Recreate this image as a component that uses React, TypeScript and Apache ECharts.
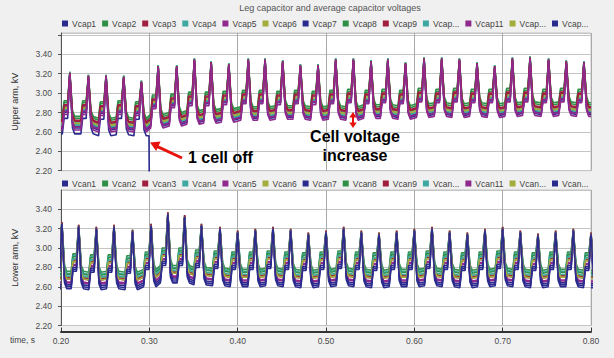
import React, { useEffect, useRef } from "react";
import * as echarts from "echarts";

// ---- Data ----
const upperNames = ["Vcap1","Vcap2","Vcap3","Vcap4","Vcap5","Vcap6","Vcap7","Vcap8","Vcap9","Vcap10","Vcap11","Vcap12","Vcap13"];
const lowerNames = ["Vcan1","Vcan2","Vcan3","Vcan4","Vcan5","Vcan6","Vcan7","Vcan8","Vcan9","Vcan10","Vcan11","Vcan12","Vcan13"];
const truncatedNames = ["Vcap10","Vcap12","Vcap13","Vcan10","Vcan12","Vcan13"];

const xTicks = [0.2, 0.3, 0.4, 0.5, 0.6, 0.7, 0.8];
const yTicks = [2.2, 2.4, 2.6, 2.8, 3.0, 3.2, 3.4];

// Upper arm: per-cycle peak times (s), peak, shoulder and trough levels (kV)
const upperPeakTimes = [0.210,0.231,0.251,0.271,0.291,0.310,0.331,0.351,0.370,0.390,0.412,0.431,0.451,0.471,0.491,0.511,0.531,0.551,0.570,0.590,0.611,0.631,0.651,0.671,0.691,0.711,0.731,0.752,0.772,0.792];
const upperPeaks = [3.22,3.19,3.19,3.18,3.13,3.29,3.29,3.36,3.33,3.31,3.36,3.36,3.34,3.30,3.30,3.36,3.36,3.34,3.36,3.32,3.37,3.37,3.36,3.32,3.29,3.37,3.38,3.36,3.34,3.33];
const upperShoulders = [2.86,2.86,2.85,2.86,2.85,2.92,2.93,2.95,2.95,2.96,2.97,2.97,2.96,2.97,2.96,2.97,2.98,2.97,2.98,2.97,2.99,2.98,2.99,2.98,2.98,2.99,2.99,2.98,2.99,2.98];
const upperTroughs = [2.70,2.70,2.68,2.69,2.68,2.72,2.74,2.76,2.77,2.78,2.80,2.80,2.81,2.81,2.80,2.81,2.80,2.82,2.82,2.81,2.83,2.84,2.83,2.84,2.83,2.84,2.85,2.84,2.85,2.84];
// per-series level offsets (trough, peak)
const upperTroughOffsets = [-0.12,0.06,0.02,0.00,-0.08,-0.02,-0.06,0.04,0.01,-0.03,-0.05,-0.01,-0.04];
const upperPeakOffsets = [-0.04,0.00,-0.01,0.00,-0.03,-0.06,-0.05,-0.02,-0.02,-0.01,-0.02,-0.07,-0.03];
const cellOffTime = 0.300; // Vcap1 drops out here

// Lower arm
const lowerPeakTimes = [0.201,0.220,0.240,0.260,0.281,0.302,0.321,0.340,0.359,0.380,0.400,0.420,0.440,0.460,0.480,0.500,0.520,0.540,0.560,0.580,0.600,0.620,0.640,0.660,0.680,0.700,0.720,0.740,0.760,0.780,0.800];
const lowerPeaks = [3.27,3.24,3.22,3.24,3.19,3.25,3.37,3.34,3.25,3.22,3.18,3.20,3.22,3.20,3.16,3.18,3.22,3.18,3.16,3.18,3.20,3.22,3.18,3.16,3.20,3.22,3.18,3.15,3.18,3.20,3.16];
const lowerShoulders = [2.86,2.86,2.85,2.85,2.84,2.88,2.92,2.92,2.90,2.89,2.88,2.88,2.89,2.88,2.87,2.88,2.89,2.88,2.87,2.88,2.88,2.89,2.88,2.87,2.88,2.89,2.88,2.87,2.88,2.88,2.87];
const lowerTroughs = [2.68,2.68,2.67,2.68,2.67,2.70,2.74,2.74,2.72,2.71,2.70,2.70,2.71,2.70,2.69,2.70,2.71,2.70,2.69,2.70,2.70,2.71,2.70,2.69,2.70,2.71,2.70,2.69,2.70,2.70,2.69];
const lowerTroughOffsets = [-0.10,0.08,0.00,0.06,-0.04,0.02,-0.08,0.05,0.01,0.03,-0.03,0.00,-0.06];
const lowerPeakOffsets = [-0.02,0.00,-0.02,-0.01,-0.03,-0.06,-0.04,-0.03,0.00,-0.02,-0.03,-0.05,-0.02];

// ---- Styles ----
const palette = ["#2b2b8f","#2f8f46","#a01e3e","#3fa8a2","#8e2a8e","#a3ad3c"];
const FONT = "Liberation Sans, Arial, sans-serif";

function buildWave(times: number[], peaks: number[], shoulders: number[], troughs: number[], tOff: number, pOff: number, endTime?: number) {
  const pts: [number, number][] = [];
  pts.push([0.2, troughs[0] + tOff]);
  let last = troughs[0] + tOff;
  for (let k = 0; k < times.length; k++) {
    const tp = times[k];
    if (endTime !== undefined && tp > endTime) break;
    const tr = troughs[k] + tOff;
    const sh = shoulders[k] + tOff;
    pts.push([tp - 0.0085, tr]);
    pts.push([tp - 0.0065, sh]);
    pts.push([tp - 0.0025, sh]);
    pts.push([tp, peaks[k] + pOff]);
    pts.push([tp + 0.003, tr + 0.06]);
    pts.push([tp + 0.0055, tr]);
    last = tr;
  }
  if (endTime !== undefined) {
    pts.push([endTime - 0.0004, last]);
    pts.push([endTime, 2.0]);
  } else {
    pts.push([0.8, last]);
  }
  return pts;
}

export default function App() {
  const ref = useRef<HTMLDivElement>(null);
  useEffect(() => {
    if (!ref.current) return;
    const chart = echarts.init(ref.current, null, { renderer: "svg" });

    const axisLabelStyle = { fontSize: 8.5, color: "#4a4a4a", fontFamily: FONT };
    const splitH = { show: true, lineStyle: { color: "#c4c4c4", width: 1 } };
    const splitV = { show: true, lineStyle: { color: "#a9a9a9", width: 1 } };

    const series: any[] = [];
    upperNames.forEach((n, i) => {
      const isNavy = i % 6 === 0;
      series.push({
        name: n, type: "line", xAxisIndex: 0, yAxisIndex: 0, showSymbol: false, symbol: "none",
        z: isNavy ? 1 : (i % 6 === 2 || i % 6 === 4 ? 3 : 2),
        lineStyle: { width: 1.6, color: palette[i % 6] }, itemStyle: { color: palette[i % 6] },
        data: buildWave(upperPeakTimes, upperPeaks, upperShoulders, upperTroughs, upperTroughOffsets[i], upperPeakOffsets[i], i === 0 ? cellOffTime : undefined),
      });
    });
    lowerNames.forEach((n, i) => {
      series.push({
        name: n, type: "line", xAxisIndex: 1, yAxisIndex: 1, showSymbol: false, symbol: "none",
        lineStyle: { width: 1.6, color: palette[i % 6] }, itemStyle: { color: palette[i % 6] },
        data: buildWave(lowerPeakTimes, lowerPeaks, lowerShoulders, lowerTroughs, lowerTroughOffsets[i], lowerPeakOffsets[i]),
      });
    });

    const legendCommon = {
      left: 62, itemWidth: 6, itemHeight: 6, itemGap: 6, icon: "rect", padding: [2, 0, 2, 0],
      textStyle: { fontSize: 8.5, color: "#444", fontFamily: FONT, padding: [0, 0, 0, -1] },
      formatter: (name: string) => (truncatedNames.includes(name) ? name.slice(0, 4) + "..." : name),
    };

    const yAxisCommon = {
      type: "value", min: 2.2, max: 3.6, interval: 0.2,
      axisLine: { show: true, lineStyle: { color: "#555" } },
      axisTick: { show: true, length: 3, lineStyle: { color: "#555" } },
      axisLabel: { ...axisLabelStyle, margin: 9, showMaxLabel: false, formatter: (v: number) => (yTicks.some((t) => Math.abs(t - v) < 1e-6) ? v.toFixed(2) : "") },
      splitLine: splitH,
      nameLocation: "middle", nameGap: 42, nameRotate: 90,
      nameTextStyle: { fontSize: 9, color: "#333", fontFamily: FONT },
    };

    chart.setOption({
      animation: false,
      backgroundColor: "#f0f0f0",
      grid: [
        { left: 61, right: 23, top: 33, height: 137.7, show: true, backgroundColor: "#ffffff", borderColor: "#c4c4c4", borderWidth: 1 },
        { left: 61, right: 23, top: 190, height: 135.5, show: true, backgroundColor: "#ffffff", borderColor: "#c4c4c4", borderWidth: 1 },
      ],
      legend: [
        { ...legendCommon, top: 17, data: upperNames },
        { ...legendCommon, top: 177, data: lowerNames },
      ],
      xAxis: [
        { type: "value", gridIndex: 0, min: 0.2, max: 0.8, interval: 0.1, axisLine: { show: false }, axisTick: { show: false }, axisLabel: { show: false }, splitLine: splitV },
        {
          type: "value", gridIndex: 1, min: 0.2, max: 0.8, interval: 0.1, offset: 6,
          axisLine: { show: true, lineStyle: { color: "#333", width: 2 } },
          axisTick: { show: true, inside: true, length: 4, lineStyle: { color: "#333" } },
          axisLabel: { ...axisLabelStyle, margin: 5, formatter: (v: number) => (xTicks.some((t) => Math.abs(t - v) < 1e-6) ? v.toFixed(2) : "") },
          splitLine: splitV,
        },
      ],
      yAxis: [
        { ...yAxisCommon, gridIndex: 0, max: 3.62, name: "Upper arm, kV" },
        { ...yAxisCommon, gridIndex: 1, name: "Lower arm, kV" },
      ],
      graphic: [
        { type: "text", x: 330, y: 8, style: { text: "Leg capacitor and average capacitor voltages", fill: "#555", font: `9px ${FONT}`, align: "center", verticalAlign: "middle" } },
        { type: "text", x: 10, y: 340, style: { text: "time, s", fill: "#444", font: `8.5px ${FONT}`, align: "left", verticalAlign: "middle" } },
        // "1 cell off" annotation
        { type: "line", shape: { x1: 182, y1: 158, x2: 157, y2: 146.4 }, style: { stroke: "#e8120c", lineWidth: 3 }, z: 100 },
        { type: "polygon", shape: { points: [[150, 142.5], [160.6, 141.6], [156.2, 151.0]] }, style: { fill: "#e8120c" }, z: 100 },
        { type: "text", x: 188, y: 157, z: 100, style: { text: "1 cell off", fill: "#000", font: `bold 16px ${FONT}`, align: "left", verticalAlign: "middle" } },
        // "Cell voltage increase" annotation
        { type: "line", shape: { x1: 353, y1: 116, x2: 353, y2: 124 }, style: { stroke: "#e8120c", lineWidth: 2 }, z: 100 },
        { type: "polygon", shape: { points: [[353, 112], [349.3, 117.5], [356.7, 117.5]] }, style: { fill: "#e8120c" }, z: 100 },
        { type: "polygon", shape: { points: [[353, 128], [349.3, 122.5], [356.7, 122.5]] }, style: { fill: "#e8120c" }, z: 100 },
        { type: "text", x: 355, y: 136, z: 100, style: { text: "Cell voltage", fill: "#000", font: `bold 16px ${FONT}`, align: "center", verticalAlign: "middle" } },
        { type: "text", x: 355, y: 155, z: 100, style: { text: "increase", fill: "#000", font: `bold 16px ${FONT}`, align: "center", verticalAlign: "middle" } },
      ],
      series,
    });
    return () => chart.dispose();
  }, []);
  return <div ref={ref} style={{ position: "fixed", left: 0, top: 0, width: 614, height: 358 }} />;
}
